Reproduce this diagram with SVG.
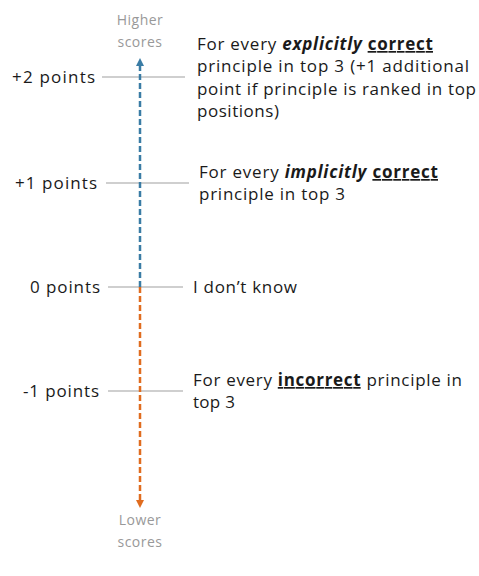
<svg xmlns="http://www.w3.org/2000/svg" width="479" height="576" viewBox="0 0 479 576">
<defs>
<style>
text{font-family:"Open Sans","Noto Sans",sans-serif;font-size:17px;fill:#1a1a1a}
.axis{font-size:14px;letter-spacing:0.5px;fill:#999;text-anchor:middle}
.lbl{text-anchor:end}
.tick{stroke:#bfbfbf;stroke-width:1.5}
.bi{font-weight:bold;font-style:italic}
.u{font-weight:bold;text-decoration:underline}
</style>
<marker id="ab" markerWidth="8" markerHeight="8" refX="4" refY="4" orient="auto" markerUnits="userSpaceOnUse"><path d="M0,0 L8,4 L0,8 Z" fill="#3a7ca5"/></marker>
<marker id="ao" markerWidth="8" markerHeight="8" refX="4" refY="4" orient="auto" markerUnits="userSpaceOnUse"><path d="M0,0 L8,4 L0,8 Z" fill="#e06c1f"/></marker>
</defs>
<g id="connectors">
<line class="tick" x1="102" y1="77" x2="185" y2="77"/>
<line class="tick" x1="106" y1="183" x2="189" y2="183"/>
<line class="tick" x1="108" y1="287" x2="183" y2="287"/>
<line class="tick" x1="108" y1="391" x2="183" y2="391"/>
<line x1="140" y1="287" x2="140" y2="62" stroke="#3a7ca5" stroke-width="2.5" stroke-dasharray="6,3" marker-end="url(#ab)"/>
<line x1="140" y1="287" x2="140" y2="504" stroke="#e06c1f" stroke-width="2.5" stroke-dasharray="6,3" marker-end="url(#ao)"/>
</g>
<g id="higher"><text class="axis" x="140" y="25">Higher</text><text class="axis" x="140" y="47">scores</text></g>
<g id="lower"><text class="axis" x="140" y="525">Lower</text><text class="axis" x="140" y="547">scores</text></g>
<g id="p2"><text class="lbl" x="95" y="83" textLength="83" lengthAdjust="spacing">+2 points</text>
<text x="197" y="50" textLength="236" lengthAdjust="spacing">For every <tspan class="bi">explicitly</tspan> <tspan class="u">correct</tspan></text>
<text x="197" y="72" textLength="272" lengthAdjust="spacing">principle in top 3 (+1 additional</text>
<text x="197" y="95" textLength="279" lengthAdjust="spacing">point if principle is ranked in top</text>
<text x="197" y="117" textLength="82" lengthAdjust="spacing">positions)</text></g>
<g id="p1"><text class="lbl" x="97" y="189" textLength="82" lengthAdjust="spacing">+1 points</text>
<text x="199" y="178" textLength="239" lengthAdjust="spacing">For every <tspan class="bi">implicitly</tspan> <tspan class="u">correct</tspan></text>
<text x="199" y="200" textLength="146" lengthAdjust="spacing">principle in top 3</text></g>
<g id="p0"><text class="lbl" x="100" y="293" textLength="70" lengthAdjust="spacing">0 points</text>
<text x="193" y="293" textLength="104" lengthAdjust="spacing">I don’t know</text></g>
<g id="m1"><text class="lbl" x="99" y="397" textLength="76" lengthAdjust="spacing">-1 points</text>
<text x="193" y="386" textLength="269" lengthAdjust="spacing">For every <tspan class="u">incorrect</tspan> principle in</text>
<text x="193" y="408" textLength="42" lengthAdjust="spacing">top 3</text></g>
</svg>
